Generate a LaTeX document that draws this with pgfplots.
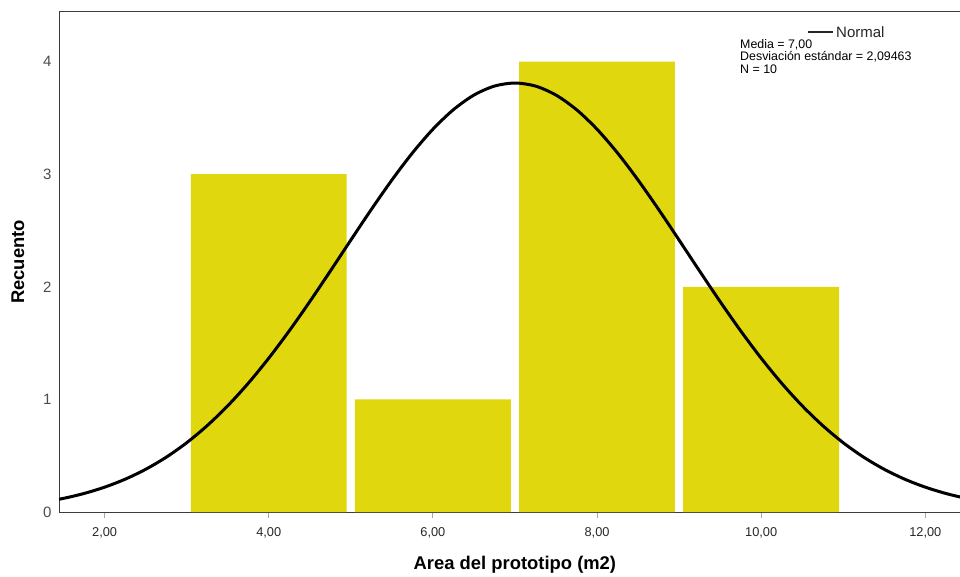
\documentclass[border=0pt]{standalone}
\usepackage{pgfplots}
\pgfplotsset{compat=1.18}
\usepackage{fontspec}
\setmainfont{Liberation Sans}
\definecolor{baryellow}{RGB}{225,215,15}
\definecolor{axgray}{RGB}{60,60,60}
\begin{document}
\begin{tikzpicture}[x=1pt,y=1pt]
\useasboundingbox (0,0) rectangle (960,576);
\begin{axis}[
  at={(59pt,64pt)}, anchor=south west,
  scale only axis, width=901pt, height=500pt,
  xmin=1.444, xmax=12.423, ymin=0, ymax=4.44,
  axis x line*=bottom, axis y line*=left,
  axis line style={draw=axgray, line width=1pt},
  xtick={2,4,6,8,10,12},
  xticklabels={{2,00},{4,00},{6,00},{8,00},{10,00},{12,00}},
  ytick={0,1,2,3,4},
  tick align=outside,
  major tick length=6pt,
  xtick style={draw=gray!70, line width=1pt},
  ytick style={draw=none},
  xticklabel style={font=\fontsize{12.8}{14}\selectfont, text=black!85, yshift=-6pt},
  yticklabel style={font=\fontsize{15}{17}\selectfont, text=black!70, xshift=2pt},
  /pgf/number format/assume math mode=true,
  xlabel={\bfseries Area del prototipo (m2)},
  ylabel={\bfseries Recuento},
  label style={font=\fontsize{18.4}{20}\selectfont},
  xlabel style={at={(axis description cs:0.506,-0.106)}, anchor=center},
  ylabel style={at={(axis description cs:-0.0455,0.5)}, anchor=center},
]
\addplot[ybar, bar width=1.9, bar shift=0pt, fill=baryellow, draw=none]
  coordinates {(4,3) (6,1) (8,4) (10,2)};
\addplot[black, line width=3pt, smooth] coordinates {
(1.25,0.0880) (1.5,0.1212) (1.75,0.1647) (2.0,0.2205) (2.25,0.2912) (2.5,0.3790)
(2.75,0.4863) (3.0,0.6151) (3.25,0.7671) (3.5,0.9431) (3.75,1.1430) (4.0,1.3659)
(4.25,1.6089) (4.5,1.8685) (4.75,2.1393) (5.0,2.4147) (5.25,2.6870) (5.5,2.9476)
(5.75,3.1879) (6.0,3.3989) (6.25,3.5727) (6.5,3.7022) (6.75,3.7822) (7.0,3.8092)
(7.25,3.7822) (7.5,3.7022) (7.75,3.5727) (8.0,3.3989) (8.25,3.1879) (8.5,2.9476)
(8.75,2.6870) (9.0,2.4147) (9.25,2.1393) (9.5,1.8685) (9.75,1.6089) (10.0,1.3659)
(10.25,1.1430) (10.5,0.9431) (10.75,0.7671) (11.0,0.6151) (11.25,0.4863) (11.5,0.3790)
(11.75,0.2912) (12.0,0.2205) (12.25,0.1647) (12.5,0.1212) (12.75,0.0880)
};
\end{axis}
\draw[axgray, line width=1pt] (59,564) -- (960,564);
\draw[black!85, line width=1.5pt] (808,544) -- (833,544);
\node[anchor=west, inner sep=0pt, font=\fontsize{15}{17}\selectfont, text=black!85] at (836,543.5) {Normal};
\node[anchor=north west, inner sep=0pt, align=left, font=\fontsize{12.4}{12.6}\selectfont] at (740,537)
  {Media = 7,00\\Desviación estándar = 2,09463\\N = 10};
\end{tikzpicture}
\end{document}
